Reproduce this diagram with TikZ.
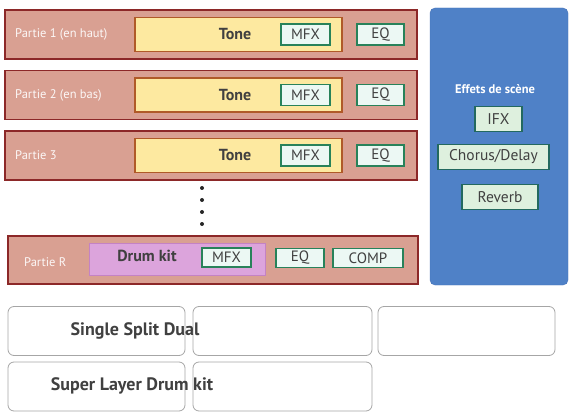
\documentclass[tikz,border=0pt]{standalone}
\usepackage{fontspec}
\setmainfont{PT Sans}
\usepackage{tikz}
\usetikzlibrary{positioning,calc}
\definecolor{partfill}{RGB}{217,160,146}
\definecolor{partborder}{RGB}{140,40,40}
\definecolor{tonefill}{RGB}{253,233,160}
\definecolor{toneborder}{RGB}{176,90,40}
\definecolor{fxfill}{RGB}{236,248,244}
\definecolor{fxborder}{RGB}{40,130,90}
\definecolor{drumfill}{RGB}{220,164,220}
\definecolor{drumborder}{RGB}{196,130,196}
\definecolor{scenefill}{RGB}{79,129,199}
\definecolor{sceneborder}{RGB}{70,115,185}
\definecolor{sfxfill}{RGB}{222,240,222}
\definecolor{sfxborder}{RGB}{35,105,95}
\definecolor{labelgray}{RGB}{64,64,64}

\begin{document}
\begin{tikzpicture}[x=1pt,y=-1pt,
        partbox/.style={rectangle, draw=partborder, line width=1.6pt, fill=partfill, minimum height=49pt},
        tonebox/.style={rectangle, draw=toneborder, line width=1.3pt, fill=tonefill, minimum width=207pt, minimum height=34pt},
        fxbox/.style={rectangle, draw=fxborder, line width=1.6pt, fill=fxfill, inner sep=1pt, minimum height=21pt, font=\fontsize{15}{17}\selectfont, text=labelgray},
        sfxbox/.style={rectangle, draw=sfxborder, line width=1.6pt, fill=sfxfill, inner sep=1pt, minimum height=25pt, font=\fontsize{15.5}{17}\selectfont, text=labelgray},
        partlabel/.style={anchor=west, inner sep=0pt, font=\fontsize{12.5}{14}\selectfont, text=white!92!partfill},
        namelabel/.style={font=\fontsize{16}{18}\selectfont\bfseries, text=labelgray},
        modebox/.style={rectangle, rounded corners=6pt, draw=gray!70, thick, fill=white, minimum height=49pt},
        dot/.style={circle, fill=black!85, inner sep=0pt, minimum size=4pt}
    ]
        \useasboundingbox (0,0) rectangle (570,414);

        % parties with Tone
        \foreach \i/\y/\txt in {1/34.5/Partie 1 (en haut), 2/95/Partie 2 (en bas), 3/155.5/Partie 3}{
            \node[partbox, minimum width=412pt] (part\i) at (211,\y) {};
            \node[partlabel] (plabel\i) at (15,\y) {\txt};
            \node[tonebox] (tone\i) at (238.5,\y) {};
            \node[namelabel] (tonetxt\i) at (235,\y) {Tone};
            \node[fxbox, minimum width=49pt] (mfx\i) at (305.5,\y) {MFX};
            \node[fxbox, minimum width=47pt] (eq\i) at (380.5,\y) {EQ};
        }

        \foreach \y [count=\k] in {188,200,212,224}
            \node[dot] (dot\k) at (202,\y) {};

        % partie R
        \node[partbox, minimum width=410pt, minimum height=48pt] (partR) at (213,260) {};
        \node[partlabel] (plabelR) at (24,262) {Partie R};
        \node[rectangle, draw=drumborder, thick, fill=drumfill, minimum width=176pt, minimum height=32pt] (drum) at (177,259) {};
        \node[namelabel, font=\fontsize{16}{18}\selectfont\bfseries] (drumtxt) at (147,256) {Drum kit};
        \node[fxbox, minimum width=49pt, minimum height=19pt] (mfxR) at (226.5,257.5) {MFX};
        \node[fxbox, minimum width=48pt, minimum height=19pt] (eqR) at (300,258) {EQ};
        \node[fxbox, minimum width=70pt, minimum height=19pt] (comp) at (368,258) {COMP};

        % effets de scene
        \node[rectangle, rounded corners=5pt, draw=sceneborder, fill=scenefill, minimum width=138pt, minimum height=277pt] (scene) at (499,146.5) {};
        \node[font=\fontsize{12.5}{14}\selectfont\bfseries, text=white] (scenetxt) at (495,89) {Effets de scène};
        \node[sfxbox, minimum width=47pt] (ifx) at (498.5,119) {IFX};
        \node[sfxbox, minimum width=111pt] (chorus) at (493.5,157) {Chorus/Delay};
        \node[sfxbox, minimum width=76pt] (reverb) at (500,197) {Reverb};

        % modes
        \node[modebox, minimum width=177pt] (mode1) at (96.5,331) {};
        \node[modebox, minimum width=179pt] (mode2) at (282.5,331) {};
        \node[modebox, minimum width=177pt] (mode3) at (466.5,331) {};
        \node[modebox, minimum width=177pt] (mode4) at (96.5,386.5) {};
        \node[modebox, minimum width=179pt] (mode5) at (282.5,386.5) {};
        \node[namelabel, font=\fontsize{18}{20}\selectfont\bfseries] (singletxt) at (135,331) {Single Split Dual};
        \node[namelabel, font=\fontsize{18}{20}\selectfont\bfseries] (supertxt) at (132,386) {Super Layer Drum kit};
    \end{tikzpicture}
\end{document}
